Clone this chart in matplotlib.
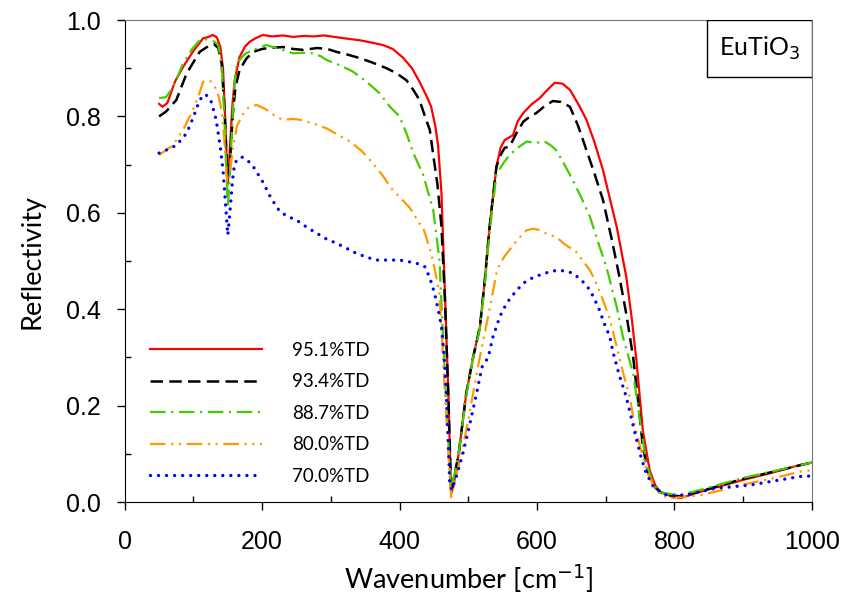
import numpy as np
import matplotlib
matplotlib.use("Agg")
import matplotlib.pyplot as plt
from matplotlib.patches import Rectangle

# reflectivity spectra of EuTiO3 ceramics
labels = ["95.1%TD", "93.4%TD", "88.7%TD", "80.0%TD", "70.0%TD"]

wn_951 = [50, 55, 62, 73, 85, 99, 114, 122, 128, 134, 139, 143, 146, 149, 151, 154, 157, 160, 167, 175,
          182, 190, 201, 215, 230, 245, 260, 275, 290, 305, 320, 342, 360, 376, 390, 405, 418, 429, 440, 446,
          452, 456, 461, 466, 471, 475, 478, 486, 497, 507, 517, 524, 531, 541, 547, 553, 560, 565, 572, 580,
          592, 604, 615, 626, 637, 648, 660, 672, 684, 696, 706, 716, 730, 738, 745, 754, 764, 772, 779, 795,
          808, 820, 837, 870, 900, 940, 983, 1000]
r_951 = [0.826, 0.820, 0.828, 0.872, 0.903, 0.934, 0.962, 0.965, 0.969, 0.964, 0.945, 0.90, 0.80, 0.69, 0.68,
         0.76, 0.83, 0.875, 0.923, 0.945, 0.955, 0.962, 0.969, 0.966, 0.968, 0.965, 0.967, 0.966, 0.968, 0.965,
         0.962, 0.958, 0.953, 0.948, 0.94, 0.922, 0.90, 0.872, 0.84, 0.82, 0.78, 0.74, 0.64, 0.433, 0.225, 0.018,
         0.03, 0.10, 0.225, 0.30, 0.364, 0.46, 0.571, 0.696, 0.735, 0.751, 0.757, 0.761, 0.79, 0.807, 0.825,
         0.838, 0.855, 0.87, 0.868, 0.855, 0.826, 0.793, 0.745, 0.689, 0.63, 0.571, 0.467, 0.38, 0.29, 0.149,
         0.066, 0.035, 0.021, 0.012, 0.008, 0.013, 0.021, 0.034, 0.046, 0.06, 0.077, 0.082]

wn_934 = [50, 60, 75, 90, 109, 124, 130, 136, 141, 145, 148, 150, 153, 157, 161, 167, 177, 187, 200, 211,
          230, 245, 260, 280, 295, 308, 325, 342, 360, 381, 395, 410, 420, 429, 437, 444, 449, 455, 461, 466,
          471, 475, 486, 497, 507, 517, 524, 531, 541, 547, 553, 560, 570, 580, 590, 599, 610, 623, 635, 648,
          660, 672, 684, 696, 708, 716, 720, 730, 740, 748, 754, 762, 772, 780, 795, 808, 837, 900, 950, 1000]
r_934 = [0.80, 0.81, 0.834, 0.889, 0.934, 0.948, 0.95, 0.942, 0.91, 0.82, 0.72, 0.66, 0.70, 0.80, 0.86, 0.896,
         0.92, 0.934, 0.94, 0.942, 0.944, 0.94, 0.938, 0.942, 0.94, 0.934, 0.928, 0.921, 0.912, 0.90, 0.89,
         0.875, 0.855, 0.834, 0.80, 0.772, 0.72, 0.66, 0.571, 0.42, 0.22, 0.02, 0.10, 0.225, 0.30, 0.364, 0.46,
         0.571, 0.696, 0.72, 0.735, 0.737, 0.765, 0.789, 0.80, 0.807, 0.82, 0.832, 0.83, 0.82, 0.78, 0.73,
         0.68, 0.627, 0.55, 0.495, 0.467, 0.39, 0.30, 0.20, 0.115, 0.06, 0.03, 0.02, 0.014, 0.012, 0.022,
         0.048, 0.065, 0.082]

wn_887 = [50, 60, 70, 85, 98, 109, 118, 124, 131, 136, 141, 145, 148, 150, 153, 157, 160, 163, 175, 187,
          206, 225, 245, 260, 274, 285, 294, 315, 332, 352, 371, 386, 400, 410, 420, 434, 449, 458, 465, 470,
          475, 486, 497, 507, 517, 524, 531, 541, 551, 560, 572, 585, 598, 611, 620, 628, 640, 652, 665, 677,
          691, 701, 716, 725, 740, 750, 759, 770, 779, 808, 837, 900, 950, 1000]
r_887 = [0.838, 0.84, 0.86, 0.91, 0.94, 0.958, 0.96, 0.958, 0.955, 0.948, 0.91, 0.80, 0.68, 0.61, 0.68, 0.80,
         0.87, 0.91, 0.93, 0.938, 0.948, 0.94, 0.931, 0.932, 0.931, 0.925, 0.917, 0.905, 0.893, 0.872, 0.848,
         0.82, 0.80, 0.765, 0.724, 0.68, 0.606, 0.502, 0.29, 0.15, 0.025, 0.10, 0.22, 0.30, 0.36, 0.45, 0.56,
         0.68, 0.703, 0.72, 0.735, 0.748, 0.745, 0.748, 0.74, 0.73, 0.70, 0.668, 0.63, 0.592, 0.53, 0.488,
         0.405, 0.343, 0.267, 0.17, 0.08, 0.035, 0.02, 0.014, 0.025, 0.05, 0.066, 0.082]

wn_800 = [50, 60, 70, 85, 99, 108, 114, 121, 126, 131, 136, 141, 145, 148, 150, 153, 157, 163, 170, 177,
          182, 192, 205, 220, 230, 245, 255, 275, 294, 310, 328, 345, 361, 375, 390, 400, 415, 429, 434, 446,
          453, 458, 466, 471, 475, 480, 490, 500, 507, 514, 521, 531, 541, 546, 553, 560, 572, 585, 595, 604,
          616, 628, 640, 657, 667, 677, 686, 696, 706, 716, 725, 735, 742, 750, 760, 769, 780, 793, 810, 837,
          870, 895, 940, 983, 1000]
r_800 = [0.72, 0.73, 0.74, 0.772, 0.813, 0.845, 0.872, 0.875, 0.872, 0.862, 0.845, 0.813, 0.75, 0.68, 0.654,
         0.68, 0.73, 0.779, 0.80, 0.815, 0.82, 0.824, 0.815, 0.80, 0.793, 0.795, 0.793, 0.785, 0.775, 0.762,
         0.748, 0.728, 0.703, 0.678, 0.647, 0.633, 0.61, 0.578, 0.571, 0.516, 0.47, 0.433, 0.225, 0.10, 0.01,
         0.04, 0.10, 0.17, 0.225, 0.28, 0.33, 0.40, 0.475, 0.495, 0.51, 0.523, 0.545, 0.564, 0.567, 0.564,
         0.555, 0.55, 0.535, 0.519, 0.50, 0.481, 0.455, 0.419, 0.38, 0.322, 0.27, 0.218, 0.16, 0.115, 0.065,
         0.035, 0.015, 0.008, 0.01, 0.014, 0.025, 0.035, 0.048, 0.063, 0.066]

wn_700 = [50, 60, 75, 90, 96, 102, 109, 116, 121, 126, 133, 139, 143, 146, 150, 153, 157, 160, 165, 170,
          178, 187, 201, 213, 226, 238, 250, 265, 279, 293, 308, 322, 337, 352, 366, 378, 390, 400, 415, 428,
          437, 444, 451, 456, 461, 465, 468, 471, 473, 476, 482, 492, 502, 512, 520, 529, 536, 546, 556, 568,
          580, 592, 604, 617, 630, 642, 652, 665, 677, 684, 691, 698, 706, 711, 720, 730, 738, 745, 752, 759,
          770, 788, 800, 818, 840, 861, 910, 950, 983, 1000]
r_700 = [0.724, 0.73, 0.74, 0.765, 0.785, 0.807, 0.834, 0.846, 0.842, 0.83, 0.793, 0.737, 0.689, 0.63, 0.554,
         0.60, 0.67, 0.703, 0.712, 0.716, 0.71, 0.696, 0.664, 0.63, 0.602, 0.592, 0.585, 0.57, 0.558, 0.546,
         0.537, 0.527, 0.516, 0.508, 0.502, 0.502, 0.502, 0.502, 0.498, 0.494, 0.488, 0.465, 0.433, 0.40,
         0.364, 0.30, 0.225, 0.12, 0.039, 0.025, 0.05, 0.10, 0.16, 0.225, 0.28, 0.30, 0.343, 0.385, 0.413,
         0.435, 0.454, 0.464, 0.471, 0.477, 0.481, 0.479, 0.475, 0.46, 0.44, 0.42, 0.398, 0.37, 0.343, 0.309,
         0.262, 0.218, 0.17, 0.129, 0.09, 0.06, 0.03, 0.015, 0.013, 0.015, 0.022, 0.029, 0.035, 0.045, 0.053,
         0.054]

plt.rcParams['font.family'] = ['Lato', 'DejaVu Sans']

fig = plt.figure(figsize=(8.43, 5.98), dpi=100)
ax = fig.add_axes([0.148, 0.1605, 0.815, 0.806])

ax.plot(wn_951, r_951, color='#ff0000', lw=1.6, label=labels[0])
ax.plot(wn_934, r_934, color='black', lw=1.8, dashes=(5, 2.5), label=labels[1])
ax.plot(wn_887, r_887, color='#44cc00', lw=1.6, dashes=(7, 2.5, 1, 2.5), label=labels[2])
ax.plot(wn_800, r_800, color='#ff9900', lw=1.6, dashes=(7, 2.5, 1, 2.5, 1, 2.5), label=labels[3])
ax.plot(wn_700, r_700, color='#0000ff', lw=2.4, linestyle=(0, (0.01, 2.4)), dash_capstyle='round',
        label=labels[4])

ax.set_xlim(0, 1000)
ax.set_ylim(0, 1.0)
ax.set_xticks(np.arange(0, 1001, 200))
ax.set_xticks(np.arange(100, 1000, 200), minor=True)
ax.set_yticks(np.arange(0, 1.01, 0.2))
ax.set_yticks(np.arange(0.1, 1.0, 0.2), minor=True)
ax.yaxis.set_major_formatter(matplotlib.ticker.FormatStrFormatter('%.1f'))
ax.tick_params(which='major', direction='out', length=6, width=1, labelsize=18,
               labelfontfamily='Liberation Sans')
ax.tick_params(which='minor', direction='in', length=4.5, width=1)
ax.tick_params(axis='x', which='major', pad=14)
ax.tick_params(axis='y', which='major', pad=11)

for side in ['top', 'right']:
    ax.spines[side].set_color('#777777')

ax.set_xlabel('Wavenumber [cm$^{-1}$]', fontsize=19.5, labelpad=6)
ax.set_ylabel('Reflectivity', fontsize=19.5, labelpad=16)

ax.legend(loc='upper left', bbox_to_anchor=(0.012, 0.368), frameon=False, fontsize=13.5,
          handlelength=6.0, handletextpad=1.6, labelspacing=0.78)

# sample name box in the upper right corner
ax.add_patch(Rectangle((0.847, 0.882), 0.153, 0.118, transform=ax.transAxes,
                       facecolor='white', edgecolor='black', lw=1, zorder=5))
ax.text(0.9235, 0.941, 'EuTiO$_3$', transform=ax.transAxes, ha='center', va='center',
        fontsize=18, zorder=6)

fig.savefig('out.png', dpi=100)
